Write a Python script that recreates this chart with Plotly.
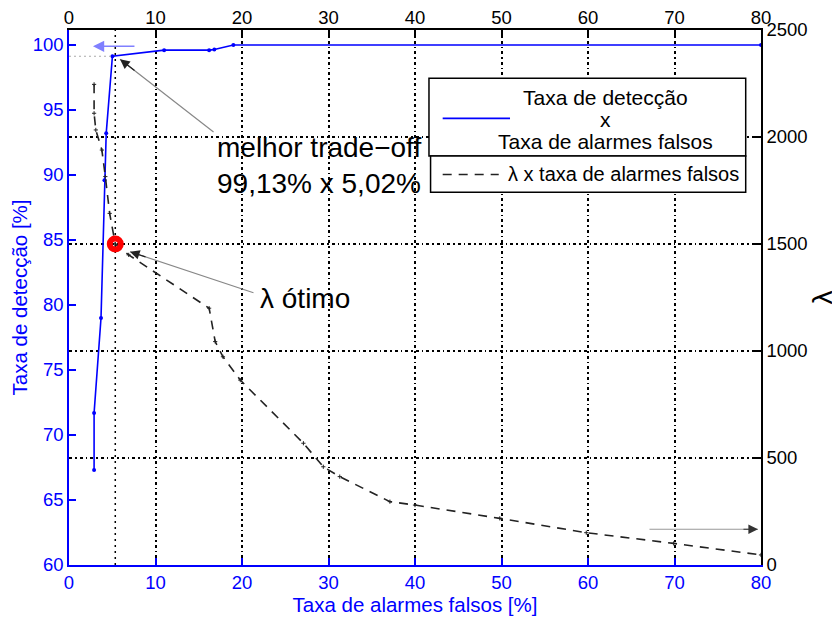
import plotly.graph_objects as go

# ---- data ----
fa_det = [2.9, 2.9, 3.7, 4.1, 4.3, 5.02, 11.0, 16.2, 16.8, 19.0, 80.0]
det_rate = [67.3, 71.7, 79.0, 89.6, 93.2, 99.13, 99.6, 99.6, 99.65, 100.0, 100.0]

fa_lam = [2.9, 2.9, 3.1, 3.8, 4.2, 4.7, 5.35, 6.9, 16.2, 16.9, 17.8, 19.8,
          27.1, 29.4, 31.3, 37.1, 40.0, 49.8, 59.8, 69.9, 80.0]
lam = [2246, 2111, 2033, 1939, 1815, 1643, 1500, 1449, 1200, 1044, 973, 864,
       569, 459, 413, 296, 280, 218, 151, 101, 47]

best_fa, best_det = 5.02, 99.13
opt_fa, opt_lam = 5.35, 1500

x_ticks = [0, 10, 20, 30, 40, 50, 60, 70, 80]
yl_ticks = [60, 65, 70, 75, 80, 85, 90, 95, 100]
yr_ticks = [0, 500, 1000, 1500, 2000, 2500]

legend_lines_1 = ["Taxa de detecção", "x", "Taxa de alarmes falsos"]
legend_text_2 = "λ x taxa de alarmes falsos"

FONT = "Liberation Sans, Arial, sans-serif"
BLUE = "#0000ff"
GRIDDASH = "3px,3px,1.5px,3px"

fig = go.Figure()

fig.add_trace(go.Scatter(
    x=fa_det, y=det_rate, mode="lines+markers", xaxis="x", yaxis="y",
    line=dict(color=BLUE, width=1.6), marker=dict(color=BLUE, size=4),
    name="Taxa de detecção x Taxa de alarmes falsos", showlegend=False))

fig.add_trace(go.Scatter(
    x=fa_lam, y=lam, mode="lines+markers", xaxis="x2", yaxis="y2",
    line=dict(color="#222222", width=1.6, dash="9px,7px"),
    marker=dict(symbol="cross-thin", size=3, color="#222222", line=dict(color="#222222", width=1)),
    name=legend_text_2, showlegend=False))

fig.add_trace(go.Scatter(
    x=[opt_fa], y=[opt_lam], mode="markers", xaxis="x2", yaxis="y2",
    marker=dict(symbol="circle-open", size=11, color="#ff0000",
                line=dict(color="#ff0000", width=6)),
    showlegend=False))

shapes = [
    # vertical dotted line through the optimum
    dict(type="line", xref="x", yref="paper", x0=opt_fa, x1=opt_fa, y0=0, y1=1,
         line=dict(color="black", width=1.5, dash="2px,4px"), layer="below"),
    # grey dotted line at the best detection rate
    dict(type="line", xref="x", yref="y", x0=0, x1=best_fa, y0=best_det, y1=best_det,
         line=dict(color="#aaaaaa", width=1, dash="2px,3px")),
    # legend boxes
    dict(type="rect", xref="paper", yref="paper", x0=0.5202, x1=0.9779, y0=0.7645, y1=0.9097,
         line=dict(color="black", width=1.5), fillcolor="white", layer="above"),
    dict(type="rect", xref="paper", yref="paper", x0=0.5225, x1=0.9779, y0=0.6966, y1=0.7645,
         line=dict(color="black", width=1.5), fillcolor="white", layer="above"),
    dict(type="line", xref="paper", yref="paper", x0=0.540, x1=0.6373, y0=0.8349, y1=0.8349,
         line=dict(color=BLUE, width=1.6), layer="above"),
    dict(type="line", xref="paper", yref="paper", x0=0.540, x1=0.6210, y0=0.7300, y1=0.7300,
         line=dict(color="#222222", width=1.6, dash="9px,7px"), layer="above"),
]

leg_font = dict(family=FONT, size=21, color="black")
ann_font = dict(family=FONT, size=28, color="black")
annotations = []
for txt, yy in zip(legend_lines_1, [0.8742, 0.8318, 0.7912]):
    annotations.append(dict(xref="paper", yref="paper", x=0.776, y=yy, xanchor="center",
                            yanchor="middle", text=txt, showarrow=False, font=leg_font))
annotations += [
    dict(xref="paper", yref="paper", x=0.6315, y=0.7300, xanchor="left", yanchor="middle",
         text=legend_text_2, showarrow=False, font=dict(family=FONT, size=20, color="black")),
    dict(xref="x", yref="y", x=16.88, y=90.7, xanchor="left", yanchor="middle",
         text="melhor trade−off<br>99,13% x 5,02%", showarrow=False, align="left", font=ann_font),
    dict(xref="x2", yref="y2", x=21.85, y=1246, xanchor="left", yanchor="middle",
         text="λ ótimo", showarrow=False, font=ann_font),
    # arrows: grey shaft + dark head
    dict(xref="x", yref="y", x=5.9, y=98.9, ax=95, ay=74, text="", showarrow=True,
         arrowhead=0, arrowwidth=1.2, arrowcolor="#888888"),
    dict(xref="x", yref="y", x=5.9, y=98.9, ax=16, ay=12.5, text="", showarrow=True,
         arrowhead=2, arrowsize=1.6, arrowwidth=1.2, arrowcolor="#222222"),
    dict(xref="x2", yref="y2", x=7.05, y=1464, ax=125, ay=41.6, text="", showarrow=True,
         arrowhead=0, arrowwidth=1.2, arrowcolor="#888888"),
    dict(xref="x2", yref="y2", x=7.05, y=1464, ax=17, ay=5.7, text="", showarrow=True,
         arrowhead=2, arrowsize=1.6, arrowwidth=1.2, arrowcolor="#222222"),
    dict(xref="x", yref="y", x=2.77, y=99.9, ax=43, ay=0, text="", showarrow=True,
         arrowhead=2, arrowsize=1.5, arrowwidth=1.5, arrowcolor="#8080ff"),
    dict(xref="x2", yref="y2", x=79.65, y=167, ax=-110, ay=0, text="", showarrow=True,
         arrowhead=0, arrowwidth=1.2, arrowcolor="#999999"),
    dict(xref="x2", yref="y2", x=79.65, y=167, ax=-16, ay=0, text="", showarrow=True,
         arrowhead=2, arrowsize=1.6, arrowwidth=1.2, arrowcolor="#333333"),
]

TICK = 18.5
tick_font_blue = dict(family=FONT, size=TICK, color=BLUE)
tick_font_black = dict(family=FONT, size=TICK, color="black")
title_font_blue = dict(family=FONT, size=20.5, color=BLUE)

fig.update_layout(
    width=840, height=619, autosize=False,
    margin=dict(l=61, r=87, t=22, b=62),
    paper_bgcolor="white", plot_bgcolor="white",
    shapes=shapes, annotations=annotations,
    xaxis=dict(range=[0, 80], tickvals=x_ticks, ticks="inside", ticklen=7, tickwidth=1.5,
               tickcolor=BLUE, showline=True, linecolor=BLUE, linewidth=1.5,
               tickfont=tick_font_blue, zeroline=False, automargin=False,
               showgrid=True, gridcolor="black", gridwidth=1.5, griddash=GRIDDASH,
               title=dict(text="Taxa de alarmes falsos [%]", font=title_font_blue, standoff=4)),
    xaxis2=dict(range=[0, 80], tickvals=x_ticks, overlaying="x", side="top", anchor="y2",
                ticks="inside", ticklen=7, tickwidth=1.5, tickcolor="black",
                showline=True, linecolor="black", linewidth=1.5, automargin=False,
                ticklabelstandoff=-3,
                tickfont=tick_font_black, zeroline=False, showgrid=False),
    yaxis=dict(range=[60, 101.15], tickvals=yl_ticks, ticks="inside", ticklen=7, tickwidth=1.5,
               tickcolor=BLUE, showline=True, linecolor=BLUE, linewidth=1.5,
               tickfont=tick_font_blue, zeroline=False, showgrid=False, automargin=False,
               title=dict(text="Taxa de detecção [%]", font=title_font_blue, standoff=3)),
    yaxis2=dict(range=[0, 2500], tickvals=yr_ticks, overlaying="y", side="right", anchor="x2",
                ticks="inside", ticklen=7, tickwidth=1.5, tickcolor="black",
                showline=True, linecolor="black", linewidth=1.5, automargin=False,
                tickfont=tick_font_black, zeroline=False,
                showgrid=True, gridcolor="black", gridwidth=1.5, griddash=GRIDDASH,
                title=dict(text="λ", font=dict(family=FONT, size=28, color="black"), standoff=6)),
)

fig.write_html("out.html")
